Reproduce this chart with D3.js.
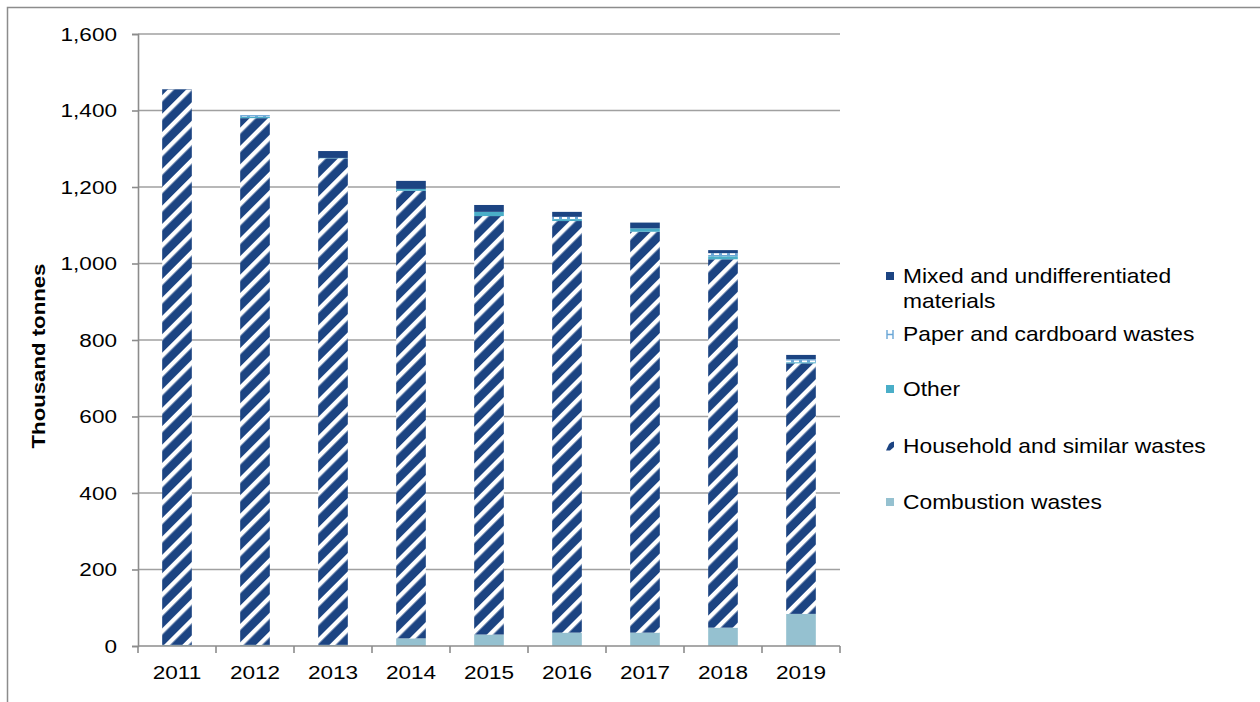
<!DOCTYPE html>
<html>
<head>
<meta charset="utf-8">
<script src="https://cdn.jsdelivr.net/npm/d3@7"></script>
<style>
  html, body { margin: 0; padding: 0; background: #fff; }
  svg { display: block; font-family: "Liberation Sans", Arial, sans-serif; }
</style>
</head>
<body>
<svg id="chart" width="1260" height="702"></svg>
<script>
// Waste to landfill by type, thousand tonnes
const years = ["2011", "2012", "2013", "2014", "2015", "2016", "2017", "2018", "2019"];
const combustion = [3, 3, 3, 20, 30, 35, 35, 48, 84];
const household  = [1452, 1377, 1272, 1170, 1094, 1076, 1048, 963, 655];
const other      = [0, 3, 1, 5, 11, 5, 9, 8, 3];
const paper      = [0, 5, 0, 0, 0, 6, 0, 8, 8];
const mixed      = [1, 0, 18, 21, 18, 13, 15, 8, 11];
const yTicks     = [0, 200, 400, 600, 800, 1000, 1200, 1400, 1600];

const seriesKeys  = ["combustion", "household", "other", "paper", "mixed"];
const seriesNames = {
  mixed: ["Mixed and undifferentiated", "materials"],
  paper: ["Paper and cardboard wastes"],
  other: ["Other"],
  household: ["Household and similar wastes"],
  combustion: ["Combustion wastes"]
};
const seriesData = { combustion, household, other, paper, mixed };

const rows = years.map((y, i) => {
  const r = { year: y };
  seriesKeys.forEach(k => r[k] = seriesData[k][i]);
  return r;
});

const svg = d3.select("#chart");
const navy = "#1c4482";

// Text is drawn slightly widened horizontally
function wideText(parent, x, y, str, opts) {
  const g = parent.append("g")
    .attr("transform", `translate(${x},${y})${opts.rotate ? " rotate(" + opts.rotate + ")" : ""} scale(${opts.sx},1)`);
  return g.append("text")
    .attr("text-anchor", opts.anchor || "start")
    .attr("font-size", opts.size)
    .attr("font-weight", opts.weight || "normal")
    .attr("fill", "#000")
    .text(str);
}

// Fill patterns
const defs = svg.append("defs");
const hatch = defs.append("pattern")
  .attr("id", "hatch").attr("patternUnits", "userSpaceOnUse")
  .attr("width", 13).attr("height", 13)
  .attr("patternTransform", "rotate(45)");
hatch.append("rect").attr("width", 13).attr("height", 13).attr("fill", navy);
hatch.append("rect").attr("x", 0).attr("width", 4.4).attr("height", 13).attr("fill", "#ffffff");

const dots = defs.append("pattern")
  .attr("id", "paperdots").attr("patternUnits", "userSpaceOnUse")
  .attr("width", 8).attr("height", 4);
dots.append("rect").attr("width", 8).attr("height", 4).attr("fill", "#6aa6d6");
dots.append("rect").attr("x", 2).attr("y", 0.5).attr("width", 5).attr("height", 2.5).attr("fill", "#ffffff");

const fills = {
  combustion: "#95c1d0",
  household: "url(#hatch)",
  other: "#4aaec8",
  paper: "url(#paperdots)",
  mixed: navy
};

// Outer frame
svg.append("path")
  .attr("d", "M7.5,702 L7.5,7.5 L1260,7.5")
  .attr("fill", "none").attr("stroke", "#8c8c8c").attr("stroke-width", 1.5);

const plot = { left: 138, right: 840, top: 34, bottom: 646 };

const x = d3.scaleBand().domain(years).range([plot.left, plot.right]).paddingInner(0.62).paddingOuter(0.31);
const y = d3.scaleLinear().domain([0, 1600]).range([plot.bottom, plot.top]);

// Gridlines
svg.append("g").selectAll("line").data(yTicks.slice(1)).join("line")
  .attr("x1", plot.left).attr("x2", plot.right)
  .attr("y1", d => y(d)).attr("y2", d => y(d))
  .attr("stroke", "#a0a0a0").attr("stroke-width", 1.6);

// Stacked bars
const stack = d3.stack().keys(seriesKeys)(rows);
svg.append("g").selectAll("g").data(stack).join("g")
  .attr("fill", d => fills[d.key])
  .selectAll("rect").data(d => d).join("rect")
  .attr("x", d => x(d.data.year))
  .attr("width", x.bandwidth())
  .attr("y", d => y(d[1]))
  .attr("height", d => Math.max(0, y(d[0]) - y(d[1])));

// Y axis
const yAxis = d3.axisLeft(y).tickValues(yTicks).tickSize(6).tickFormat("");
const gy = svg.append("g").attr("transform", `translate(${plot.left},0)`).call(yAxis);
gy.select(".domain").attr("stroke", "#8c8c8c").attr("stroke-width", 1.6);
gy.selectAll(".tick line").attr("stroke", "#8c8c8c").attr("stroke-width", 1.6);
const fmt = d3.format(",");
yTicks.forEach(v => {
  wideText(svg, 117, y(v) + 6.5, fmt(v), { sx: 1.22, size: 18.5, anchor: "end" });
});

// X axis with ticks between categories
const gx = svg.append("g").attr("transform", `translate(0,${plot.bottom})`);
gx.append("line").attr("x1", plot.left).attr("x2", plot.right)
  .attr("stroke", "#8c8c8c").attr("stroke-width", 1.6);
const bounds = d3.range(years.length + 1).map(i => plot.left + i * (plot.right - plot.left) / years.length);
gx.selectAll("line.tk").data(bounds).join("line").attr("class", "tk")
  .attr("x1", d => d).attr("x2", d => d).attr("y1", 0).attr("y2", 7)
  .attr("stroke", "#8c8c8c").attr("stroke-width", 1.6);
years.forEach(yr => {
  wideText(gx, x(yr) + x.bandwidth() / 2, 33, yr, { sx: 1.22, size: 18.5, anchor: "middle" });
});

// Y axis title
wideText(svg, 45, 356, "Thousand tonnes", { sx: 1.2, size: 18.5, anchor: "middle", weight: "bold", rotate: -90 });

// Legend (top-down order)
const legendItems = [
  { key: "mixed", y: 276 },
  { key: "paper", y: 334 },
  { key: "other", y: 389 },
  { key: "household", y: 446 },
  { key: "combustion", y: 502 }
];
const lg = svg.append("g");
legendItems.forEach(it => {
  const g = lg.append("g");
  if (it.key === "paper") {
    g.append("rect").attr("x", 886).attr("y", it.y - 4).attr("width", 8).attr("height", 9).attr("fill", "#ffffff");
    g.append("path").attr("d", `M887,${it.y - 4} V${it.y + 5} M893,${it.y - 4} V${it.y + 5} M887,${it.y + 0.5} H893`)
      .attr("stroke", "#6aa6d6").attr("stroke-width", 1.4).attr("fill", "none");
  } else if (it.key === "household") {
    g.append("path").attr("d", `M886,${it.y + 4.5} L889,${it.y - 2} Q891,${it.y - 4.5} 894,${it.y - 4.5} L894,${it.y + 1} L890,${it.y + 4.5} Z`)
      .attr("fill", navy);
  } else {
    g.append("rect").attr("x", 886).attr("y", it.y - 4).attr("width", 8).attr("height", 8).attr("fill", fills[it.key]);
  }
  seriesNames[it.key].forEach((line, i) => {
    wideText(g, 903, it.y + 7 + i * 25, line, { sx: 1.14, size: 20, anchor: "start" });
  });
});
</script>
</body>
</html>
